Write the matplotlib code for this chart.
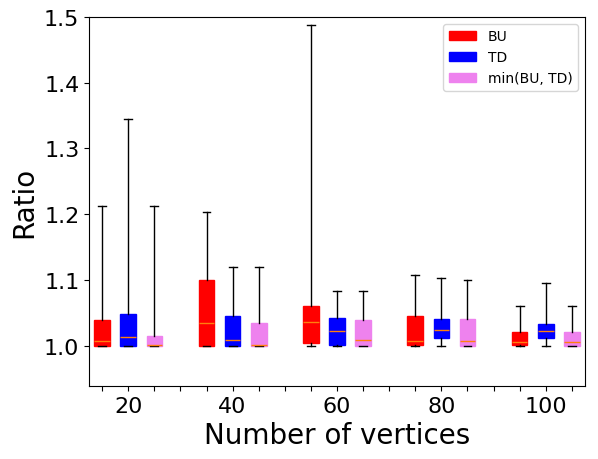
import matplotlib
matplotlib.use('Agg')
import matplotlib.pyplot as plt
import matplotlib.patches as mpatches

# values
vertices = [20, 40, 60, 80, 100]
methods = ['BU', 'TD', 'min(BU, TD)']
colors = ['red', 'blue', 'violet']

# per method, per vertex count: low whisker, q1, median, q3, high whisker
bu_low = [1.0, 1.0, 0.999, 0.999, 0.999]
bu_q1 = [1.0, 1.0, 1.004, 1.001, 1.001]
bu_med = [1.007, 1.0345, 1.036, 1.007, 1.0056]
bu_q3 = [1.0395, 1.1, 1.06, 1.045, 1.021]
bu_high = [1.213, 1.203, 1.488, 1.108, 1.061]

td_low = [1.0, 1.0, 0.999, 0.999, 0.999]
td_q1 = [1.0, 1.0, 1.001, 1.0117, 1.0117]
td_med = [1.013, 1.0087, 1.0223, 1.024, 1.0223]
td_q3 = [1.0486, 1.0456, 1.042, 1.0405, 1.0334]
td_high = [1.345, 1.12, 1.083, 1.103, 1.096]

min_low = [1.0, 1.0, 1.0, 1.0, 0.999]
min_q1 = [1.0, 1.0, 1.0, 1.0, 1.0]
min_med = [1.001, 1.001, 1.0087, 1.007, 1.0056]
min_q3 = [1.015, 1.035, 1.039, 1.041, 1.021]
min_high = [1.213, 1.12, 1.083, 1.1, 1.061]

series = [
    (bu_low, bu_q1, bu_med, bu_q3, bu_high),
    (td_low, td_q1, td_med, td_q3, td_high),
    (min_low, min_q1, min_med, min_q3, min_high),
]

fig = plt.figure(figsize=(5.98, 4.6), dpi=100)
ax = fig.add_axes([0.149, 0.159, 0.829, 0.802])

for m, (lo, q1, med, q3, hi) in enumerate(series):
    stats = []
    pos = []
    for g in range(len(vertices)):
        stats.append({'whislo': lo[g], 'q1': q1[g], 'med': med[g],
                      'q3': q3[g], 'whishi': hi[g], 'fliers': []})
        pos.append(g * 4 + m + 1)
    ax.bxp(stats, positions=pos, widths=0.6, patch_artist=True,
           showfliers=False,
           boxprops=dict(facecolor=colors[m], edgecolor=colors[m]),
           medianprops=dict(color='#ff7f0e'),
           whiskerprops=dict(color='black'),
           capprops=dict(color='black'))

ax.set_xlim(0.5, 19.5)
ax.set_ylim(0.939, 1.5)
ax.set_xticks(range(1, 20))
ax.set_xticklabels(['' if (i - 2) % 4 else str(vertices[(i - 2) // 4]) for i in range(1, 20)])
ax.tick_params(axis='both', labelsize=16)
ax.set_xlabel('Number of vertices', fontsize=20)
ax.set_ylabel('Ratio', fontsize=20)

handles = [mpatches.Patch(color=c, label=l) for c, l in zip(colors, methods)]
ax.legend(handles=handles, loc='upper right')

fig.savefig('out.png', dpi=100)
